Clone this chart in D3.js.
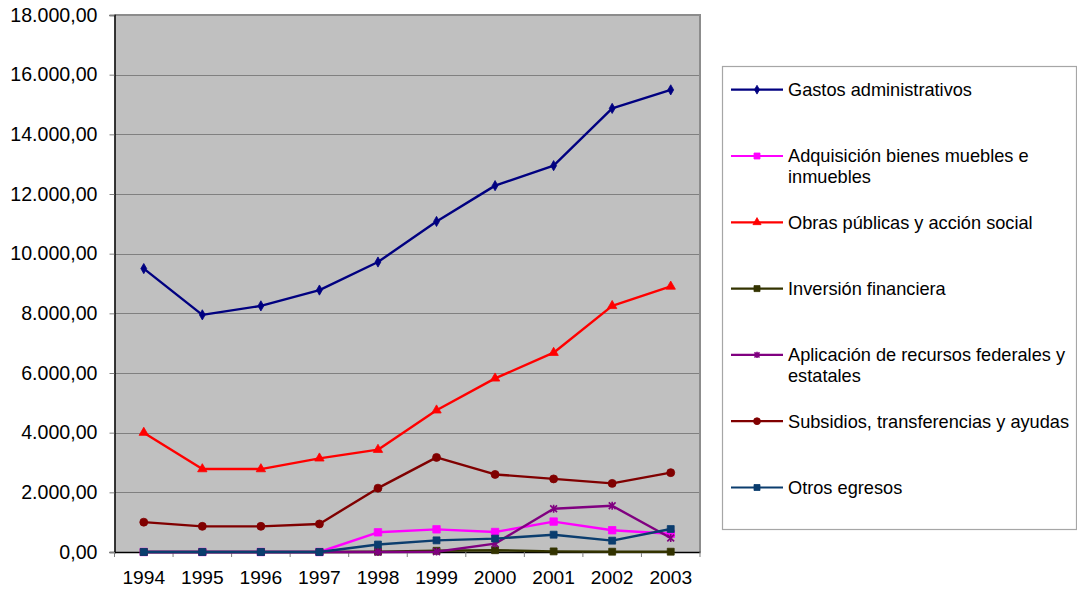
<!DOCTYPE html>
<html>
<head>
<meta charset="utf-8">
<script src="https://cdn.jsdelivr.net/npm/d3@7"></script>
<style>
  html, body { margin: 0; padding: 0; background: #fff; }
  svg { display: block; font-family: "Liberation Sans", Arial, sans-serif; }
</style>
</head>
<body>
<svg id="chart" width="1077" height="589"></svg>
<script>
// Years on the category axis
const years = ["1994", "1995", "1996", "1997", "1998", "1999", "2000", "2001", "2002", "2003"];

// Series values (one array per expenditure line)
const gastosAdministrativos = [9500, 7950, 8250, 8780, 9720, 11080, 12280, 12950, 14870, 15490];
const adquisicionBienes     = [0, 0, 0, 0, 660, 760, 670, 1020, 730, 610];
const obrasPublicas         = [4000, 2780, 2780, 3140, 3430, 4750, 5820, 6680, 8250, 8900];
const inversionFinanciera   = [0, 0, 0, 0, 10, 40, 60, 20, 10, 10];
const aplicacionRecursos    = [0, 0, 0, 0, 0, 10, 280, 1450, 1550, 470];
const subsidios             = [1000, 860, 860, 940, 2140, 3170, 2600, 2450, 2300, 2660];
const otrosEgresos          = [0, 0, 0, 0, 250, 390, 450, 580, 380, 770];

// Legend labels (line breaks as shown in the legend box)
const seriesLabels = [
  ["Gastos administrativos"],
  ["Adquisición bienes muebles e", "inmuebles"],
  ["Obras públicas y acción social"],
  ["Inversión financiera"],
  ["Aplicación de recursos federales y", "estatales"],
  ["Subsidios, transferencias y ayudas"],
  ["Otros egresos"]
];

// Y axis tick values
const yTicks = [0, 2000, 4000, 6000, 8000, 10000, 12000, 14000, 16000, 18000];

const seriesValues = [gastosAdministrativos, adquisicionBienes, obrasPublicas,
  inversionFinanciera, aplicacionRecursos, subsidios, otrosEgresos];
const seriesColors = ["#000080", "#FF00FF", "#FF0000", "#333300", "#800080", "#800000", "#0B3D6E"];
const seriesMarkers = ["diamond", "square", "triangle", "square", "star", "circle", "square"];

const svg = d3.select("#chart");
const plot = { left: 114.5, right: 700, top: 15, bottom: 552 };

const x = d3.scaleBand().domain(years).range([plot.left, plot.right]).padding(0);
const y = d3.scaleLinear().domain([0, 18000]).range([plot.bottom, plot.top]);

const locale = d3.formatLocale({ decimal: ",", thousands: ".", grouping: [3], currency: ["", ""] });
const fmt = locale.format(",.2f");

// Plot background
svg.append("rect")
  .attr("x", plot.left).attr("y", plot.top)
  .attr("width", plot.right - plot.left).attr("height", plot.bottom - plot.top)
  .attr("fill", "#C0C0C0");

// Horizontal gridlines
svg.append("g").selectAll("line")
  .data(yTicks.filter(d => d > 0 && d < 18000))
  .join("line")
  .attr("x1", plot.left).attr("x2", plot.right)
  .attr("y1", d => Math.round(y(d)) + 0.5).attr("y2", d => Math.round(y(d)) + 0.5)
  .attr("stroke", "#808080").attr("stroke-width", 1.2);

// Top and right frame
svg.append("path")
  .attr("d", `M${plot.left},${plot.top}H${plot.right}V${plot.bottom}`)
  .attr("fill", "none").attr("stroke", "#8C8C8C").attr("stroke-width", 2);

// Y axis
const yAxis = svg.append("g")
  .attr("transform", `translate(${plot.left},0)`)
  .call(d3.axisLeft(y).tickValues(yTicks).tickFormat(fmt).tickSize(5).tickPadding(12));
yAxis.select(".domain").attr("stroke", "#000").attr("stroke-width", 1.5);
yAxis.selectAll(".tick line").attr("stroke", "#808080");
yAxis.selectAll(".tick text")
  .attr("font-size", 19.6).attr("fill", "#000")
  .attr("font-family", "Liberation Sans, Arial, sans-serif");

// X axis with ticks at category boundaries
const xAxis = svg.append("g")
  .attr("transform", `translate(0,${plot.bottom})`)
  .call(d3.axisBottom(x).tickSize(0).tickPadding(18));
xAxis.select(".domain").attr("stroke", "#000").attr("stroke-width", 1.5);
xAxis.selectAll(".tick text")
  .attr("font-size", 19.2).attr("fill", "#000")
  .attr("font-family", "Liberation Sans, Arial, sans-serif");
xAxis.append("g").selectAll("line")
  .data(years.concat(["end"]))
  .join("line")
  .attr("x1", (d, i) => plot.left + i * x.bandwidth())
  .attr("x2", (d, i) => plot.left + i * x.bandwidth())
  .attr("y1", 0).attr("y2", 5)
  .attr("stroke", "#808080");

// Marker drawing
function drawMarker(g, type, color, scale) {
  const k = scale || 1;
  if (type === "star") {
    const s = 3.4 * k;
    g.append("path")
      .attr("d", `M${-s},${-s}L${s},${s}M${-s},${s}L${s},${-s}M0,${-s - 0.5}L0,${s + 0.5}`)
      .attr("stroke", color).attr("stroke-width", 1.6).attr("fill", "none");
    return;
  }
  const sym = { diamond: d3.symbolDiamond, square: d3.symbolSquare, triangle: d3.symbolTriangle, circle: d3.symbolCircle }[type];
  const size = { diamond: 30, square: 48, triangle: 38, circle: 50 }[type] * k;
  g.append("path")
    .attr("d", d3.symbol().type(sym).size(size)())
    .attr("fill", color).attr("stroke", color).attr("stroke-width", 0.8);
}

const line = d3.line()
  .x((d, i) => x(years[i]) + x.bandwidth() / 2)
  .y(d => y(d));

// Series lines and markers
seriesValues.forEach((vals, si) => {
  const color = seriesColors[si];
  const g = svg.append("g");
  g.append("path")
    .datum(vals)
    .attr("d", line)
    .attr("fill", "none")
    .attr("stroke", color)
    .attr("stroke-width", 2.4)
    .attr("stroke-linejoin", "round");
  vals.forEach((v, i) => {
    const mg = g.append("g")
      .attr("transform", `translate(${x(years[i]) + x.bandwidth() / 2},${y(v)})`);
    drawMarker(mg, seriesMarkers[si], color, si === 1 ? 1.15 : 1);
  });
});

// Legend
const legend = svg.append("g");
legend.append("rect")
  .attr("x", 722.5).attr("y", 66.5)
  .attr("width", 354).attr("height", 463)
  .attr("fill", "#fff").attr("stroke", "#A6A6A6").attr("stroke-width", 1.2);

const legendTop = 89.7, legendStep = 66.3;
seriesLabels.forEach((lines, si) => {
  const cy = legendTop + si * legendStep;
  const color = seriesColors[si];
  const item = legend.append("g");
  item.append("line")
    .attr("x1", 731).attr("x2", 783)
    .attr("y1", cy).attr("y2", cy)
    .attr("stroke", color).attr("stroke-width", 2.2);
  const mg = item.append("g").attr("transform", `translate(757,${cy})`);
  drawMarker(mg, seriesMarkers[si], color, 0.75);
  const t = item.append("text")
    .attr("x", 788).attr("y", cy + 6.4)
    .attr("font-size", 18.2).attr("fill", "#000");
  lines.forEach((ln, li) => {
    t.append("tspan").attr("x", 788).attr("dy", li === 0 ? 0 : 21).text(ln);
  });
});
</script>
</body>
</html>
